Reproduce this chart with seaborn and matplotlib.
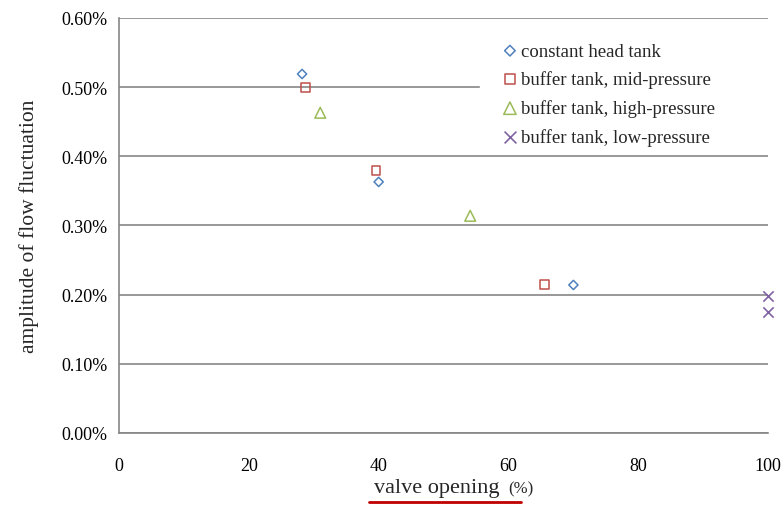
import matplotlib
matplotlib.use("Agg")
import matplotlib.pyplot as plt
from matplotlib.lines import Line2D
from matplotlib.ticker import FuncFormatter
import seaborn as sns
import pandas as pd

# Valeurs (ouverture vanne %, amplitude en %)
series = ["constant head tank", "buffer tank, mid-pressure",
          "buffer tank, high-pressure", "buffer tank, low-pressure"]
const_x = [28.2, 40.0, 70.0]
const_y = [0.519, 0.363, 0.214]
mid_x = [28.7, 39.6, 65.5]
mid_y = [0.499, 0.379, 0.215]
high_x = [31.0, 54.1]
high_y = [0.463, 0.314]
low_x = [100.0, 100.0]
low_y = [0.198, 0.175]

colors = ["#4F81BD", "#C0504D", "#9BBB59", "#8064A2"]
markers = ["D", "s", "^", "x"]
sizes = [22, 40, 60, 55]

sns.set_theme(style="white")
plt.rcParams["font.family"] = ["Liberation Serif", "DejaVu Serif"]

fig = plt.figure(figsize=(7.83, 5.06), dpi=100)
ax = fig.add_axes([0.152, 0.1423, 0.829, 0.8202])

data = [(const_x, const_y), (mid_x, mid_y), (high_x, high_y), (low_x, low_y)]
for name, (xs, ys), c, m, s in zip(series, data, colors, markers, sizes):
    df = pd.DataFrame({"x": xs, "y": ys})
    if m == "x":
        sns.scatterplot(data=df, x="x", y="y", marker=m, color=c, s=s,
                        linewidth=1.2, ax=ax, label=name, clip_on=False, zorder=4)
    else:
        sns.scatterplot(data=df, x="x", y="y", marker=m, s=s,
                        facecolor="none", edgecolor=c, linewidth=1.1,
                        ax=ax, label=name, clip_on=False, zorder=4)

ax.set_xlim(0, 100)
ax.set_ylim(0, 0.6)
ax.set_xticks(range(0, 101, 20))
ax.set_yticks([0, 0.1, 0.2, 0.3, 0.4, 0.5, 0.6])
ax.yaxis.set_major_formatter(FuncFormatter(lambda v, p: f"{v:.2f}%"))
ax.grid(axis="y", color="#868686", linewidth=1.2)
ax.set_axisbelow(True)
for side in ["top", "right"]:
    ax.spines[side].set_visible(False)
for side in ["left", "bottom"]:
    ax.spines[side].set_color("#868686")
    ax.spines[side].set_linewidth(1.2)
ax.tick_params(axis="both", direction="out", width=1.2,
               color="#868686", labelsize=13, labelcolor="black")
ax.tick_params(axis="y", length=4.5, pad=4)
ax.tick_params(axis="x", length=3, pad=14)

ax.set_ylabel("amplitude of flow fluctuation", fontsize=15.5)
ax.yaxis.set_label_coords(-0.124, 0.5)
ax.set_xlabel("")
fig.text(437 / 783, 1 - 493 / 506, "valve opening", fontsize=16,
         ha="center", va="baseline")
fig.text(508 / 783, 1 - 493 / 506, "(%)", fontsize=12,
         ha="left", va="baseline")
fig.add_artist(Line2D([369 / 783, 521 / 783], [1 - 503 / 506, 1 - 503 / 506],
                      color="#C00000", linewidth=2))

# légende sur fond blanc qui masque la grille à 0.50%
leg = ax.legend(loc="upper left", bbox_to_anchor=(0.556, 0.950, 0.444, 0.0),
                mode="expand", borderaxespad=0, fontsize=13.5, frameon=True,
                facecolor="white", edgecolor="white", framealpha=1,
                fancybox=False, handlelength=2.8, handletextpad=-0.8,
                labelspacing=0.58, borderpad=0.2, markerscale=1.15)
leg.set_zorder(3)

fig.savefig("out.png", dpi=100)
plt.close(fig)
